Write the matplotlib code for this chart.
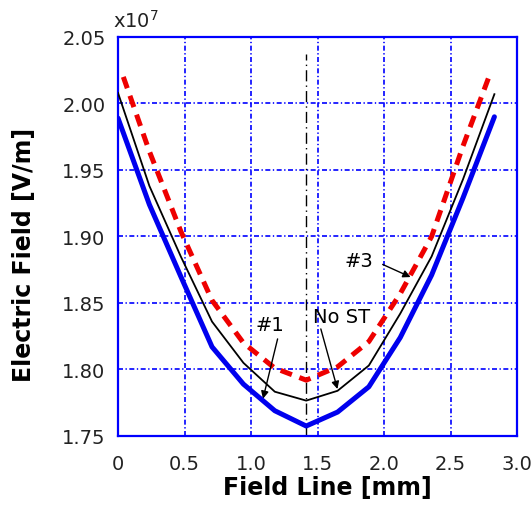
import matplotlib
matplotlib.use("Agg")
import matplotlib.pyplot as plt

# Field along the line, values in units of 1e7 V/m
x_pts = [0.0, 0.236, 0.472, 0.707, 0.943, 1.179, 1.415, 1.651, 1.886, 2.122, 2.358, 2.594, 2.830]
e_st1 = [1.989, 1.924, 1.870, 1.817, 1.789, 1.769, 1.7575, 1.768, 1.787, 1.824, 1.871, 1.929, 1.990]
e_nost = [2.008, 1.938, 1.885, 1.836, 1.805, 1.7833, 1.7766, 1.784, 1.803, 1.842, 1.885, 1.943, 2.007]

x_st3 = [0.04, 0.236, 0.472, 0.707, 0.943, 1.179, 1.415, 1.651, 1.886, 2.122, 2.358, 2.594, 2.80]
e_st3 = [2.020, 1.964, 1.904, 1.852, 1.820, 1.801, 1.792, 1.802, 1.821, 1.857, 1.900, 1.968, 2.023]

center_x = 1.415
x_ticks = [0, 0.5, 1.0, 1.5, 2.0, 2.5, 3.0]
x_ticklabels = ["0", "0.5", "1.0", "1.5", "2.0", "2.5", "3.0"]
y_ticks = [1.75, 1.80, 1.85, 1.90, 1.95, 2.00, 2.05]

fig = plt.figure(figsize=(5.32, 5.06), dpi=100)
ax = fig.add_axes([118 / 532, 1 - 437 / 506, 399 / 532, 399 / 506])

ax.plot(x_pts, e_st1, color="#0000ee", lw=3.6, solid_capstyle="round",
        solid_joinstyle="round", zorder=4)
ax.plot(x_pts, e_nost, color="black", lw=1.3, zorder=5)
ax.plot(x_st3, e_st3, color="#ee0000", lw=3.6, linestyle=(0, (2.4, 1.6)), zorder=3)

# symmetry line
ax.plot([center_x, center_x], [1.751, 2.037], color="black", lw=1.0,
        linestyle=(0, (8, 3, 1, 3)), zorder=2)

ax.set_xlim(0, 3.0)
ax.set_ylim(1.75, 2.05)
ax.set_xticks(x_ticks)
ax.set_xticklabels(x_ticklabels)
ax.set_yticks(y_ticks)
ax.set_yticklabels(["%.2f" % v for v in y_ticks])
ax.tick_params(length=0, labelsize=14, labelcolor="#222222")
ax.tick_params(axis="x", pad=13)
ax.tick_params(axis="y", pad=9)

ax.grid(True, color="#0000ff", lw=1.2, linestyle=(0, (3, 1.5, 0.8, 1.5)))
ax.set_axisbelow(True)
for s in ax.spines.values():
    s.set_color("#0000ff")
    s.set_linewidth(1.6)

ax.set_xlabel("Field Line [mm]", fontsize=17, fontweight="bold")
ax.set_ylabel("Electric Field [V/m]", fontsize=17, fontweight="bold")
ax.xaxis.set_label_coords(0.526, -0.128)
ax.yaxis.set_label_coords(-0.235, 0.456)
ax.xaxis.label.set_va("center")
ax.yaxis.label.set_va("center")
fig.text(113 / 532, 1 - 28 / 506, r"x10$^{7}$", fontsize=14, color="#222222",
         ha="left", va="baseline")

arrow = dict(arrowstyle="-|>", color="black", lw=1.0, mutation_scale=11,
             shrinkA=0, shrinkB=0)
ax.annotate("", xy=(1.09, 1.778), xytext=(1.20, 1.823), arrowprops=arrow)
ax.text(1.14, 1.834, "#1", fontsize=14, ha="center", va="center")
ax.annotate("", xy=(1.65, 1.7853), xytext=(1.525, 1.8305), arrowprops=arrow)
ax.text(1.465, 1.840, "No ST", fontsize=14, ha="left", va="center")
ax.annotate("", xy=(2.20, 1.8695), xytext=(1.99, 1.879), arrowprops=arrow)
ax.text(1.81, 1.882, "#3", fontsize=14, ha="center", va="center")

fig.savefig("out.png", dpi=100)
